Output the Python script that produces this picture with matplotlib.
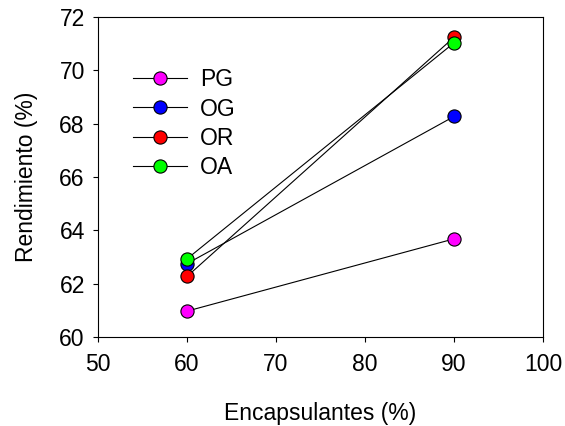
import matplotlib.pyplot as plt

plt.rcParams['font.family'] = ['Liberation Sans', 'DejaVu Sans']

encapsulantes = [60, 90]
series_names = ['PG', 'OG', 'OR', 'OA']
pg = [60.97, 63.68]
og = [62.75, 68.27]
or_ = [62.27, 71.24]
oa = [62.93, 71.03]
colors = ['#ff00ff', '#0000ff', '#ff0000', '#00ff00']

fs = 16.5

fig = plt.figure(figsize=(5.65, 4.26), dpi=100)
ax = fig.add_axes([98 / 565, 1 - 337 / 426, 445 / 565, 320 / 426])

for name, vals, c in zip(series_names, [pg, og, or_, oa], colors):
    ax.plot(encapsulantes, vals, color='black', linewidth=0.8,
            marker='o', markersize=9.5, markerfacecolor=c,
            markeredgecolor='black', markeredgewidth=0.8, label=name)

ax.set_xlim(50, 100)
ax.set_ylim(60, 72)
ax.set_xticks(range(50, 101, 10))
ax.set_yticks(range(60, 73, 2))
ax.tick_params(direction='out', length=3.5, labelsize=fs, width=0.8)
ax.tick_params(axis='x', pad=8)
ax.tick_params(axis='y', pad=6)
ax.set_xlabel('Encapsulantes (%)', fontsize=fs, labelpad=19)
ax.set_ylabel('Rendimiento (%)', fontsize=fs, labelpad=15)

ax.legend(loc='upper left', bbox_to_anchor=(0.058, 0.869), frameon=False,
          fontsize=fs, handlelength=2.36, handletextpad=0.57, labelspacing=0.28,
          borderaxespad=0)

fig.savefig('out.png', dpi=100)
